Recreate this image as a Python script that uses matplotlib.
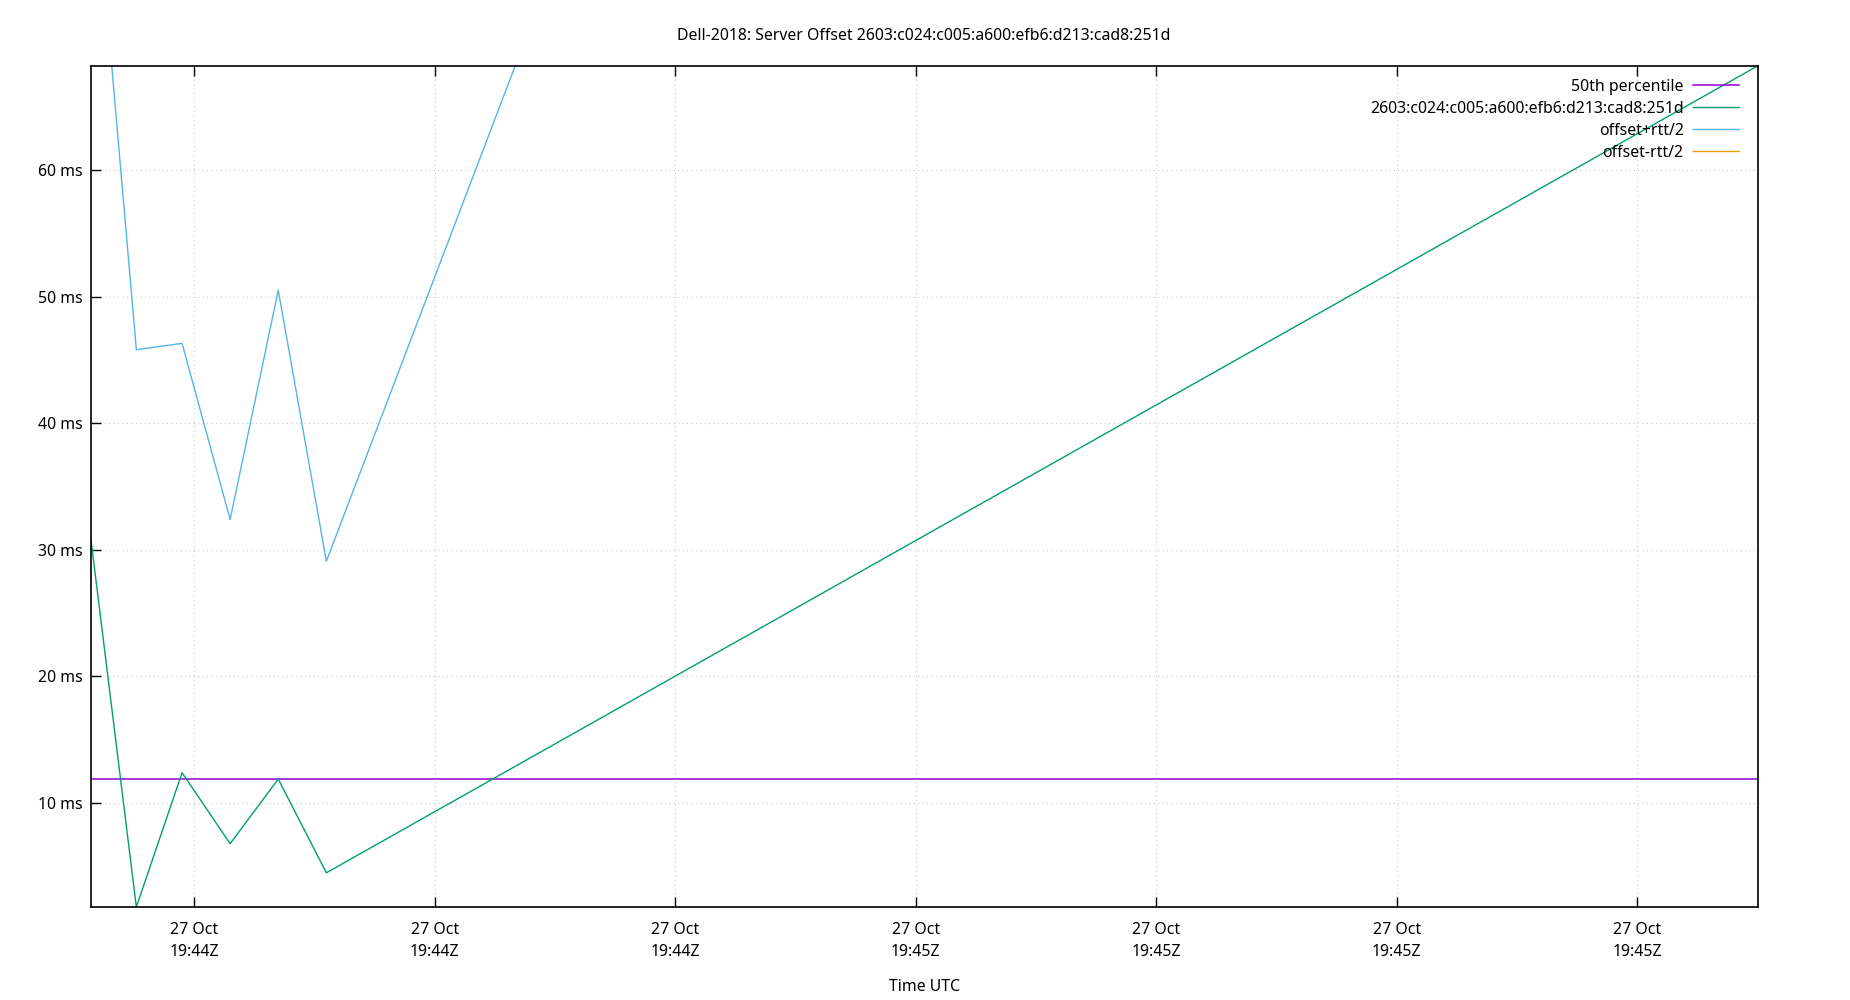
import pandas as pd
import matplotlib
matplotlib.use("Agg")
import matplotlib.pyplot as plt
import matplotlib.dates as mdates

plt.rcParams['font.family'] = ['Noto Sans', 'DejaVu Sans']
plt.rcParams['font.size'] = 11.4

# sample times (UTC) and values in ms
times = pd.to_datetime([
    "2018-10-27 19:44:25.7", "2018-10-27 19:44:27.6", "2018-10-27 19:44:29.5",
    "2018-10-27 19:44:31.5", "2018-10-27 19:44:33.5", "2018-10-27 19:44:35.5",
    "2018-10-27 19:45:35.0",
])
offset = [31.0, 1.8, 12.4, 6.8, 11.9, 4.5, 68.2]
offset_plus = [87.4, 45.8, 46.3, 32.4, 50.5, 29.1, 325.5]
offset_minus = [2 * o - p for o, p in zip(offset, offset_plus)]
p50 = 11.9

server = "2603:c024:c005:a600:efb6:d213:cad8:251d"

fig = plt.figure(figsize=(18.5, 10), dpi=100)
ax = fig.add_axes([0.049, 0.093, 0.901, 0.841])

ax.axhline(p50, color="#9400d3", lw=1.1, label="50th percentile")
ax.plot(times, offset, color="#009e73", lw=1.0, label=server)
ax.plot(times, offset_plus, color="#56b4e9", lw=1.0, label="offset+rtt/2")
ax.plot(times, offset_minus, color="#e69f00", lw=1.0, label="offset-rtt/2")

ax.set_xlim(times[0], times[-1])
ax.set_ylim(min(offset), max(offset))

ax.xaxis.set_major_locator(mdates.SecondLocator(bysecond=range(0, 60, 10)))
ax.xaxis.set_major_formatter(mdates.DateFormatter("%d %b\n%H:%MZ"))
ax.set_yticks([10, 20, 30, 40, 50, 60])
ax.set_yticklabels([f"{v} ms" for v in [10, 20, 30, 40, 50, 60]])

ax.tick_params(axis="x", direction="in", top=True, length=7, width=1, pad=11)
ax.tick_params(axis="y", direction="in", right=False, length=7, width=1, pad=6)
for lbl in ax.get_xticklabels():
    lbl.set_horizontalalignment("center")
    lbl.set_multialignment("center")
    lbl.set_linespacing(1.45)

ax.grid(True, color="#c8c8c8", linestyle=(0, (1, 3)), lw=0.8)
for s in ax.spines.values():
    s.set_linewidth(1.2)

ax.set_title("Dell-2018: Server Offset " + server, fontsize=11.4, pad=19)
ax.set_xlabel("Time UTC", labelpad=14)

ax.legend(loc="upper right", bbox_to_anchor=(0.989, 0.985), frameon=False,
          markerfirst=False, handlelength=2.9, handletextpad=0.6,
          labelspacing=0.385, borderpad=0, borderaxespad=0)

fig.savefig("out.png", dpi=100)
